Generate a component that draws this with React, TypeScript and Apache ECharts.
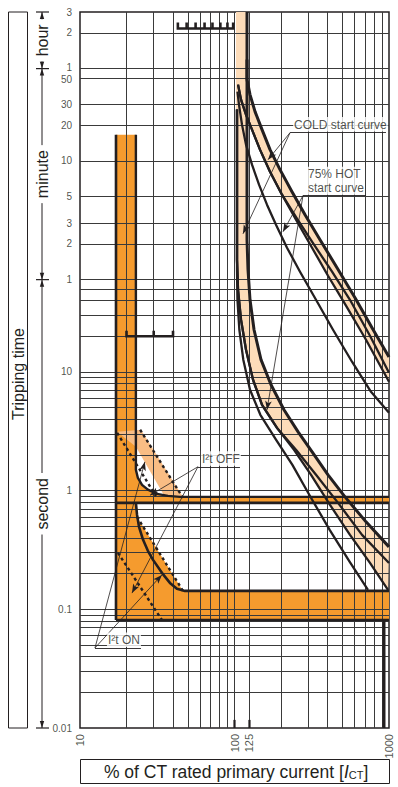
import React, { useEffect, useRef } from "react";
import * as echarts from "echarts";

const DARK = "#231f20";
const ORANGE = "#f59b2e";
const LIGHT_ORANGE = "#f9bd84";
const PEACH = "#fddcb9";
const GRID_COLOR = "#3a3a3a";
const SANS = "'Liberation Sans', Arial, Helvetica, sans-serif";
const NARROW = "'Liberation Sans Narrow', 'Liberation Sans', Arial, sans-serif";

const X_MIN = 10;
const X_MAX = 1000;
const Y_MIN = 0.01;
const Y_MAX = 10800;

// tick labels
const xTickValues = [10, 100, 125, 1000];
const xTickLabels = ["10", "100", "125", "1000"];
const yTickValues = [0.01, 0.1, 1, 10, 60, 120, 180, 300, 600, 1200, 1800, 3000, 3600, 7200, 10800];
const yTickLabels = ["0.01", "0.1", "1", "10", "1", "2", "3", "5", "10", "20", "30", "50", "1", "2", "3"];
const yTickNudges = [0, 0, 0, 0, 0, 0, 0, 0, 0, 0, 0, 1.5, -1.5, 0, 0];

// grid lines
const xGridValues = [20, 30, 40, 50, 60, 70, 80, 90, 100, 125, 200, 300, 400, 500, 600, 700, 800, 900];
const yGridValues = [
  0.02, 0.03, 0.04, 0.05, 0.06, 0.07, 0.08, 0.09,
  0.1, 0.2, 0.3, 0.4, 0.5, 0.6, 0.7, 0.8, 0.9,
  1, 2, 3, 4, 5, 6, 7, 8, 9,
  10, 20, 30, 40, 50,
  60, 120, 180, 300, 600, 1200, 1800, 3000,
  3600, 7200,
];

// time-unit strip on the left
const timeUnitBounds = [10800, 3600, 60, 0.01];
const timeUnitNames = ["hour", "minute", "second"];

// thermal curves: lower family (vertical asymptote band)
const lowerColdRight = [
  [120.5, 10800], [120.5, 130], [122.3, 72.7], [126, 40.6], [133.8, 22.7], [148.4, 12.7],
  [172.3, 7.8], [209, 4.8], [258, 3.13], [318, 2.12], [403, 1.36], [519, 0.886], [710, 0.546], [1000, 0.336],
];
const lowerColdLeft = [
  [103.8, 1625], [103.8, 88.3], [105.4, 49.3], [110.2, 27.6], [118.7, 15.4], [131.8, 8.6],
  [150.7, 5.29], [188.4, 3.38], [242.8, 2.21], [313, 1.36], [415, 0.759], [559, 0.424], [753, 0.246], [985, 0.146],
];
const lowerColdInner = [
  [103.8, 1625], [103.8, 88.3], [105.4, 49.3], [110.2, 27.6], [118.7, 15.4], [131.8, 8.6],
  [150.7, 5.29], [188.4, 3.38], [250, 2.21], [337, 1.36], [468, 0.789], [669, 0.424], [1000, 0.246],
];
const lowerHot = [
  [103.8, 1625], [103.8, 72.7], [104.5, 40.6], [107.5, 22.7], [114, 12.7], [126, 7.08],
  [147, 4.36], [186, 2.68], [237, 1.65], [306, 0.915], [413, 0.467], [557, 0.251], [731, 0.146],
];

// thermal curves: upper family
const upperColdRight = [
  [120.5, 4290], [120.5, 2909], [126, 2174], [135.8, 1563], [150.7, 1102], [169.8, 747.4], [197, 506.9],
  [235.6, 330.6], [286.1, 211.6], [357.6, 130.2], [460.8, 75.6], [602.5, 42.2], [776.2, 23.6], [1000, 13.4],
];
const upperColdLeft = [
  [105.4, 2640], [110.2, 1973], [118.7, 1475], [129.8, 1102], [146.2, 747.4], [169.8, 487.5], [203, 311.9],
  [250.1, 192], [317.5, 111.5], [402.9, 64.7], [526.7, 36.2], [709.8, 18.7], [1000, 8.27],
];
const upperColdInner = [
  [105.4, 2640], [110.2, 1973], [118.7, 1475], [129.8, 1102], [146.2, 747.4], [169.8, 487.5], [203, 311.9],
  [253.8, 195.7], [327, 118.2], [428, 70.0], [568, 39.1], [753, 20.2], [1000, 9.85],
];
const upperHot = [
  [104.5, 2300], [106.9, 1790], [111.8, 1214], [118.7, 823.7], [129.8, 558.5], [144.1, 378.8], [162.3, 256.9],
  [185.6, 174.2], [218.7, 111.5], [265.4, 70.0], [336.9, 40.6], [434.1, 22.7], [576.1, 12.2], [764.7, 6.81], [1000, 4.53],
];

// short-circuit / I2t zone
const columnLeftEdge = [[17.1, 1000], [17.1, 0.0814]];
const offCurvePath = [
  [23, 1000], [23, 1.5], [23.7, 1.28], [25.2, 1.12], [27.5, 1.02], [31.5, 0.94], [37.1, 0.904], [44.4, 0.886], [1000, 0.886],
];
const onLevelLine = [[17.1, 0.789], [1000, 0.789]];
const onCurvePath = [
  [23, 0.789], [23.4, 0.625], [24.1, 0.495], [25.6, 0.385], [27.5, 0.311], [29.7, 0.261],
  [33.9, 0.203], [38.2, 0.167], [42.4, 0.149], [47.8, 0.143], [1000, 0.143],
];
const bottomLevelLine = [[17.1, 0.0814], [1000, 0.0814]];
const instantaneousLine = [[928, 0.0814], [928, 0.01]];
const offDashedLower = [[17.4, 3.07], [31, 0.9]];
const offDashedUpper = [[24.5, 3.26], [46.4, 0.87]];
const onDashedUpper = [[23.4, 0.601], [46.4, 0.143]];
const onDashedLower = [[17.6, 0.299], [33.9, 0.0814]];
const lightOrangeZone = [[17.4, 3.13], [24.8, 3.26], [46.4, 0.886], [35.5, 0.886], [23, 2.34]];

// setting brackets
const topBracketTicks = [43, 49, 56, 64, 72, 81, 90, 98];
const topBracketEnd = 100;
const topBracketLevel = 7834;
const topBracketTickTop = 8800;
const midBracketTicks = [20, 30, 40];
const midBracketLevel = 20;
const midBracketTickTop = 22.3;
const axisMarkValues = [100, 125];
const axisMarkTop = 0.0117;

// annotations
const coldLabelPos = [229, 1040];
const coldLabelEnd = [956, 1040];
const coldArrowTips = [[164.8, 615], [113.5, 146]];
const hotLabelPos = [277.5, 306];
const hotLabelEnd = [710, 306];
const hotArrowTips = [[206, 152], [162.3, 4.8]];
const offLabelPos = [58, 1.59];
const offLabelEnd = [108.5, 1.59];
const offArrowTips = [[28.4, 0.915], [21.7, 0.137]];
const onLabelPos = [12.5, 0.0473];
const onLabelEnd = [24.8, 0.0473];
const onArrowTips = [[26.3, 1.75], [33.9, 0.195]];
const annotationTexts = ["COLD start curve", "75% HOT\nstart curve", "I²t OFF", "I²t ON"];
const annotationOffsets = [3, 4, 3, 12];

function rev<T>(a: T[]): T[] {
  return a.slice().reverse();
}

function bracket(ticks: number[], level: number, top: number, end: number) {
  const pts: number[][] = [];
  ticks.forEach((v) => {
    pts.push([v, level], [v, top], [v, level]);
  });
  pts.push([end, level]);
  return pts;
}

const lowerPeachZone = [[102.3, 10800], ...lowerColdRight, ...rev(lowerColdLeft), [102.3, 1625]];
const upperPeachZone = [...upperColdRight, ...rev(upperColdLeft)];
const orangeZone = [
  [17.1, 1000], ...offCurvePath, [1000, 0.789], [23.4, 0.789], ...onDashedUpper,
  [1000, 0.143], [1000, 0.0814], [17.1, 0.0814],
];

const polygons = [
  { pts: lowerPeachZone, fill: PEACH },
  { pts: upperPeachZone, fill: PEACH },
  { pts: orangeZone, fill: ORANGE },
  { pts: lightOrangeZone, fill: LIGHT_ORANGE },
];

function line(data: number[][], width: number, extra: any = {}) {
  return {
    type: "line",
    data,
    symbol: "none",
    showSymbol: false,
    silent: true,
    z: 4,
    lineStyle: { color: DARK, width, cap: "butt", join: "round", ...extra },
  };
}

function buildOption(): any {
  const annPos = [coldLabelPos, hotLabelPos, offLabelPos, onLabelPos];
  const leaders = [
    [coldLabelPos, coldArrowTips[0]], [coldLabelPos, coldArrowTips[1]],
    [hotLabelPos, hotArrowTips[0]], [hotLabelPos, hotArrowTips[1]],
    [offLabelPos, offArrowTips[0]], [offLabelPos, offArrowTips[1]],
    [onLabelPos, onArrowTips[0]], [onLabelPos, onArrowTips[1]],
  ];
  const underlines = [
    [coldLabelPos, coldLabelEnd], [hotLabelPos, hotLabelEnd],
    [offLabelPos, offLabelEnd], [onLabelPos, onLabelEnd],
  ];

  return {
    animation: false,
    backgroundColor: "#fff",
    grid: {
      left: 80, top: 12, width: 309, height: 716,
      show: true, borderColor: DARK, borderWidth: 1.5, backgroundColor: "transparent",
      containLabel: false, outerBoundsMode: "none",
    },
    xAxis: {
      type: "log", logBase: 10, min: X_MIN, max: X_MAX,
      axisLine: { show: false }, axisTick: { show: false }, axisLabel: { show: false }, splitLine: { show: false },
    },
    yAxis: {
      type: "log", logBase: 10, min: Y_MIN, max: Y_MAX,
      axisLine: { show: false }, axisTick: { show: false }, axisLabel: { show: false }, splitLine: { show: false },
    },
    graphic: [
      { type: "rect", shape: { x: 8.5, y: 12, width: 19, height: 716 }, style: { fill: "none", stroke: DARK, lineWidth: 1 } },
      {
        type: "text", x: 18, y: 374, rotation: Math.PI / 2,
        style: { text: "Tripping time", fill: DARK, fontSize: 16, fontFamily: SANS, align: "center", verticalAlign: "middle" },
      },
      { type: "rect", shape: { x: 80.5, y: 759.5, width: 309, height: 24 }, style: { fill: "none", stroke: DARK, lineWidth: 1 } },
      {
        type: "text", x: 236, y: 771.5,
        style: {
          text: "% of CT rated primary current [{i|I}{s|CT}]",
          fill: DARK, fontSize: 17.5, fontFamily: SANS, align: "center", verticalAlign: "middle",
          rich: {
            i: { fontSize: 17.5, fontStyle: "italic", fontFamily: SANS, fill: DARK },
            s: { fontSize: 11, fontFamily: SANS, fill: DARK, verticalAlign: "bottom", padding: [6, 0, 0, 0] },
          },
        },
      },
    ],
    series: [
      {
        type: "custom",
        coordinateSystem: "cartesian2d",
        silent: true,
        z: 1,
        clip: true,
        data: polygons.map((p, i) => [p.pts[0][0], p.pts[0][1], i]),
        encode: { x: 0, y: 1 },
        renderItem: (params: any, api: any) => {
          const p = polygons[api.value(2)];
          return {
            type: "polygon",
            shape: { points: p.pts.map((pt) => api.coord(pt)) },
            style: { fill: p.fill, stroke: "none" },
          };
        },
      },
      {
        type: "line",
        data: [[X_MIN, Y_MIN]],
        symbol: "none",
        silent: true,
        lineStyle: { width: 0 },
        markLine: {
          silent: true, z: 3, symbol: ["none", "none"], label: { show: false }, animation: false,
          lineStyle: { color: GRID_COLOR, width: 1, type: "solid" },
          emphasis: { disabled: true },
          data: [...xGridValues.map((v) => ({ xAxis: v })), ...yGridValues.map((v) => ({ yAxis: v }))],
        },
      },
      line(lowerColdRight, 3),
      line(lowerColdLeft, 2.3),
      line(lowerColdInner, 2.3),
      line(lowerHot, 2.3),
      line(upperColdRight, 3),
      line(upperColdLeft, 2.3),
      line(upperColdInner, 2.3),
      line(upperHot, 2.3),
      line(columnLeftEdge, 2.6),
      line(offCurvePath, 2.4),
      line(onLevelLine, 2.6),
      line(onCurvePath, 2.6),
      line(bottomLevelLine, 2.6),
      line(instantaneousLine, 3),
      line(offDashedLower, 2.4, { type: [3, 3] }),
      line(offDashedUpper, 2.4, { type: [3, 3] }),
      line(onDashedUpper, 2.4, { type: [3, 3] }),
      line(onDashedLower, 2.4, { type: [3, 3] }),
      line(bracket(topBracketTicks, topBracketLevel, topBracketTickTop, topBracketEnd), 2.6, { join: "miter" }),
      line(bracket(midBracketTicks, midBracketLevel, midBracketTickTop, midBracketTicks[midBracketTicks.length - 1]), 2.6, { join: "miter" }),
      ...axisMarkValues.map((v) => line([[v, Y_MIN], [v, axisMarkTop]], 2.2)),
      {
        type: "line",
        data: [[X_MIN, Y_MIN]],
        symbol: "none",
        silent: true,
        lineStyle: { width: 0 },
        markLine: {
          silent: true, z: 6, symbol: ["none", "arrow"], symbolSize: [5, 9], label: { show: false },
          lineStyle: { color: DARK, width: 0.8, type: "solid" },
          emphasis: { disabled: true },
          data: leaders.map(([a, b]) => [{ coord: a }, { coord: b }]),
        },
      },
      {
        type: "line",
        data: [[X_MIN, Y_MIN]],
        symbol: "none",
        silent: true,
        lineStyle: { width: 0 },
        markLine: {
          silent: true, z: 21, symbol: ["none", "none"], label: { show: false },
          lineStyle: { color: DARK, width: 0.9, type: "solid" },
          emphasis: { disabled: true },
          data: underlines.map(([a, b]) => [{ coord: a }, { coord: b }]),
        },
      },
      {
        type: "scatter",
        silent: true,
        z: 20,
        clip: false,
        symbolSize: 0,
        data: annotationTexts.map((t, i) => ({
          value: [annPos[i][0], annPos[i][1], t],
          label: { position: [annotationOffsets[i], -1] },
        })),
        label: {
          show: true,
          formatter: (p: any) => p.value[2],
          align: "left",
          verticalAlign: "bottom",
          fontSize: 12,
          lineHeight: 13.5,
          fontFamily: SANS,
          color: DARK,
          backgroundColor: "#fff",
          padding: [1, 1, 0, 1],
        },
      },
      {
        type: "scatter",
        silent: true,
        z: 20,
        clip: false,
        symbolSize: 0,
        data: yTickValues.map((v, i) => ({
          value: [X_MIN, v, yTickLabels[i]],
          label: { offset: [0, yTickNudges[i]] },
        })),
        label: {
          show: true, position: "left", distance: 8,
          formatter: (p: any) => p.value[2],
          fontSize: 10, lineHeight: 10, fontFamily: NARROW, color: DARK,
        },
      },
      {
        type: "scatter",
        silent: true,
        z: 20,
        clip: false,
        symbolSize: 0,
        data: xTickValues.map((v, i) => [v, Y_MIN, xTickLabels[i]]),
        label: {
          show: true, position: "bottom", distance: 6, rotate: 90,
          align: "right", verticalAlign: "middle",
          formatter: (p: any) => p.value[2],
          fontSize: 11, fontFamily: NARROW, color: DARK,
        },
      },
      {
        type: "custom",
        coordinateSystem: "cartesian2d",
        silent: true,
        clip: false,
        z: 10,
        data: timeUnitNames.map((n, i) => [X_MIN, timeUnitBounds[i], timeUnitBounds[i + 1], i]),
        encode: { x: 0, y: 1 },
        renderItem: (params: any, api: any) => {
          const top = api.coord([api.value(0), api.value(1)]);
          const bot = api.coord([api.value(0), api.value(2)]);
          const idx = api.value(3);
          const x = top[0] - 38;
          const y1 = top[1];
          const y2 = bot[1];
          const children: any[] = [
            { type: "line", shape: { x1: x, y1, x2: x, y2 }, style: { stroke: DARK, lineWidth: 1 } },
            { type: "line", shape: { x1: x - 6, y1, x2: x + 7, y2: y1 }, style: { stroke: DARK, lineWidth: 1.2 } },
            { type: "polygon", shape: { points: [[x, y1], [x - 2.2, y1 + 7], [x + 2.2, y1 + 7]] }, style: { fill: DARK } },
            { type: "polygon", shape: { points: [[x, y2], [x - 2.2, y2 - 7], [x + 2.2, y2 - 7]] }, style: { fill: DARK } },
            {
              type: "text", x, y: (y1 + y2) / 2, rotation: Math.PI / 2,
              style: {
                text: timeUnitNames[idx], fill: DARK, fontSize: 16, fontFamily: SANS,
                align: "center", verticalAlign: "middle", backgroundColor: "#fff", padding: [0, 5],
              },
            },
          ];
          if (idx === timeUnitNames.length - 1) {
            children.push({ type: "line", shape: { x1: x - 6, y1: y2, x2: x + 7, y2 }, style: { stroke: DARK, lineWidth: 1.2 } });
          }
          return { type: "group", children };
        },
      },
    ],
  };
}

export default function App() {
  const ref = useRef<HTMLDivElement>(null);
  useEffect(() => {
    if (!ref.current) return;
    const chart = echarts.init(ref.current, null, { renderer: "svg" });
    chart.setOption(buildOption());
    return () => chart.dispose();
  }, []);
  return (
    <div
      ref={ref}
      style={{ position: "absolute", left: 0, top: 0, width: 398, height: 787, background: "#fff" }}
    />
  );
}
